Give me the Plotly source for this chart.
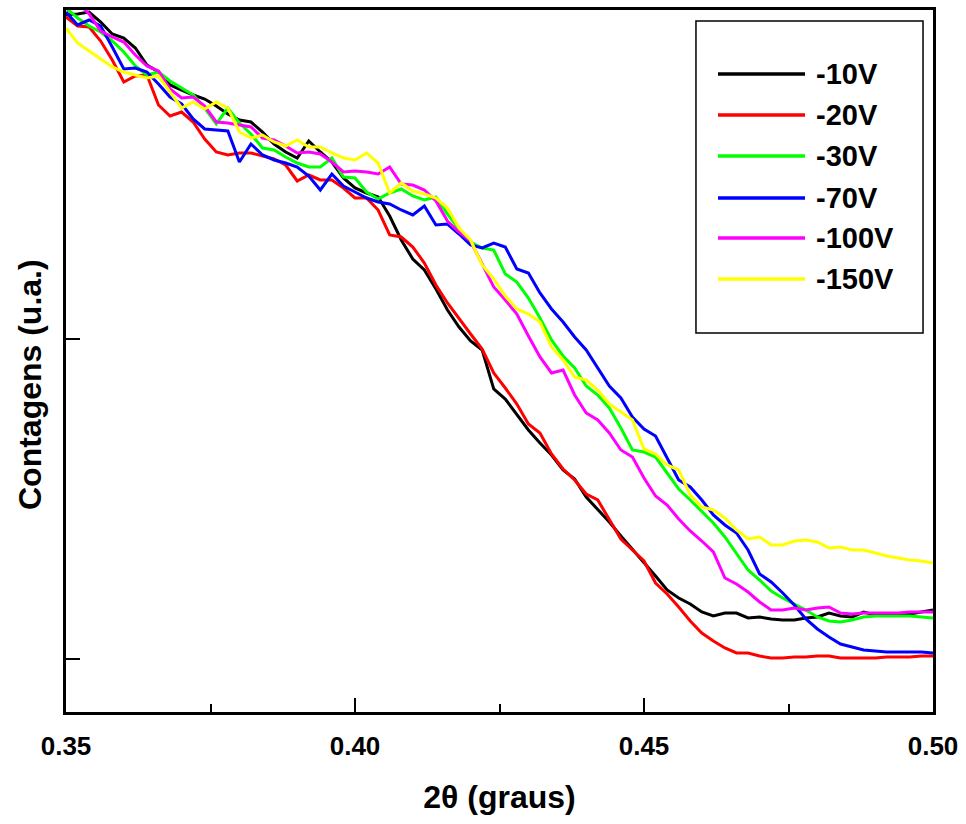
import plotly.graph_objects as go

# 2-theta grid (degrees), step 0.002
two_theta = [round(0.350 + 0.002 * i, 3) for i in range(76)]

series_names = ["-10V", "-20V", "-30V", "-70V", "-100V", "-150V"]
series_colors = ["#000000", "#FF0000", "#00FF00", "#0000FF", "#FF00FF", "#FFFF00"]

counts_10V = [644, 645, 647, 637, 625, 621, 611, 594, 587, 574,
              569, 564, 560, 553, 545, 539, 537, 527, 515, 507,
              501, 518, 507, 497, 481, 471, 466, 462, 443, 419,
              400, 389, 370, 349, 332, 318, 309, 270, 260, 245,
              229, 216, 204, 189, 180, 162, 150, 137, 123, 110,
              97, 83, 69, 61, 55, 47, 43, 46, 46, 41,
              42, 40, 39, 39, 41, 42, 46, 43, 42, 47,
              44, 44, 44, 45, 47, 49]

counts_20V = [642, 633, 632, 618, 599, 577, 583, 584, 554, 543,
              547, 537, 520, 507, 504, 506, 506, 503, 500, 494,
              478, 484, 479, 479, 471, 461, 461, 449, 424, 422,
              412, 396, 374, 356, 340, 325, 310, 286, 271, 255,
              235, 226, 205, 190, 179, 165, 159, 140, 120, 109,
              98, 76, 65, 52, 38, 26, 18, 11, 6, 6,
              3, 1, 1, 2, 2, 3, 3, 1, 1, 1,
              1, 2, 2, 2, 3, 3]

counts_30V = [651, 641, 633, 627, 618, 607, 593, 584, 587, 578,
              571, 564, 551, 535, 551, 536, 525, 511, 509, 502,
              496, 492, 492, 501, 482, 481, 467, 460, 466, 470,
              463, 459, 462, 445, 430, 417, 411, 409, 385, 377,
              361, 341, 319, 303, 291, 273, 264, 251, 231, 209,
              207, 202, 186, 170, 159, 147, 136, 122, 106, 89,
              79, 68, 61, 55, 49, 42, 38, 37, 39, 42,
              43, 43, 43, 43, 42, 41]

counts_70V = [647, 634, 639, 633, 612, 590, 591, 587, 575, 562,
              555, 540, 530, 529, 528, 497, 515, 504, 499, 496,
              492, 483, 469, 485, 473, 467, 461, 457, 455, 449,
              444, 453, 434, 435, 425, 414, 411, 416, 412, 390,
              386, 366, 350, 337, 322, 309, 291, 273, 261, 242,
              230, 223, 201, 179, 172, 159, 144, 134, 126, 109,
              85, 77, 66, 54, 40, 30, 22, 15, 12, 9,
              8, 7, 7, 7, 7, 6]

counts_100V = [664, 657, 645, 628, 622, 617, 604, 593, 588, 570,
               561, 562, 553, 537, 536, 534, 532, 521, 519, 513,
               506, 507, 505, 497, 487, 488, 487, 485, 492, 475,
               474, 469, 458, 438, 427, 418, 395, 372, 359, 345,
               323, 302, 286, 289, 264, 246, 239, 226, 209, 202,
               181, 163, 154, 140, 128, 118, 107, 81, 75, 67,
               57, 49, 49, 51, 49, 51, 52, 46, 45, 46,
               46, 46, 46, 47, 47, 47]

counts_150V = [631, 616, 608, 600, 592, 587, 584, 581, 583, 567,
               551, 557, 550, 557, 551, 527, 521, 524, 517, 513,
               519, 512, 512, 506, 501, 499, 506, 496, 466, 476,
               468, 465, 461, 451, 431, 419, 394, 380, 363, 350,
               345, 337, 312, 299, 282, 279, 269, 255, 247, 239,
               210, 205, 194, 189, 164, 152, 149, 141, 129, 120,
               122, 114, 114, 118, 119, 117, 111, 112, 109, 109,
               106, 103, 101, 99, 98, 96]

all_counts = [counts_10V, counts_20V, counts_30V, counts_70V, counts_100V, counts_150V]

x_range = [0.35, 0.50]
x_ticks = [0.35, 0.40, 0.45, 0.50]
x_tick_labels = ["0.35", "0.40", "0.45", "0.50"]
y_range = [-53, 649]
y_ticks = [0, 320]

FONT = "Liberation Sans, Arial, sans-serif"

fig = go.Figure()
for name, color, ys in zip(series_names, series_colors, all_counts):
    fig.add_trace(go.Scatter(x=two_theta, y=ys, mode="lines", name=name,
                             line=dict(color=color, width=3), showlegend=False,
                             cliponaxis=True))

# custom legend (long line samples like the original)
box = dict(x0=0.7266, x1=0.9885, y0=0.5399, y1=0.9843)
fig.add_shape(type="rect", xref="paper", yref="paper", **box,
              line=dict(color="black", width=1.5), fillcolor="white", layer="above")
entry_y = [0.9088, 0.8504, 0.7920, 0.7322, 0.6752, 0.6168]
for name, color, yy in zip(series_names, series_colors, entry_y):
    fig.add_shape(type="line", xref="paper", yref="paper", x0=0.752, x1=0.8524,
                  y0=yy, y1=yy, line=dict(color=color, width=3.5), layer="above")
    fig.add_annotation(xref="paper", yref="paper", x=0.8627, y=yy, text="<b>%s</b>" % name,
                       showarrow=False, xanchor="left", yanchor="middle",
                       font=dict(family=FONT, size=29, color="black"))

# y-axis title placed like the original (slightly below the plot centre)
fig.add_annotation(xref="paper", yref="paper", x=-0.0415, y=0.4658,
                   text="<b>Contagens (u.a.)</b>", textangle=-90, showarrow=False,
                   xanchor="center", yanchor="middle",
                   font=dict(family=FONT, size=32, color="black"))

fig.update_layout(
    width=966, height=824,
    margin=dict(l=66, r=33, t=10, b=112),
    paper_bgcolor="white", plot_bgcolor="white",
    font=dict(family=FONT, color="black"),
    showlegend=False,
)
fig.update_xaxes(
    range=x_range, tickvals=x_ticks, ticktext=["<b>%s</b>" % t for t in x_tick_labels],
    ticks="inside", ticklen=14, tickwidth=2, tickcolor="black",
    minor=dict(dtick=0.025, tick0=0.35, ticks="inside", ticklen=8, tickwidth=2, tickcolor="black"),
    showline=True, linecolor="black", linewidth=2.5, mirror=True, showgrid=False, zeroline=False,
    tickfont=dict(family=FONT, size=26, color="black"), ticklabelstandoff=9,
    title=dict(text="<b>2θ (graus)</b>", font=dict(family=FONT, size=32, color="black"), standoff=26),
    automargin=False,
)
fig.update_yaxes(
    range=y_range, tickvals=y_ticks, showticklabels=False,
    ticks="inside", ticklen=14, tickwidth=2, tickcolor="black",
    showline=True, linecolor="black", linewidth=2.5, mirror=True, showgrid=False, zeroline=False,
    automargin=False,
)

fig.write_html("out.html")
